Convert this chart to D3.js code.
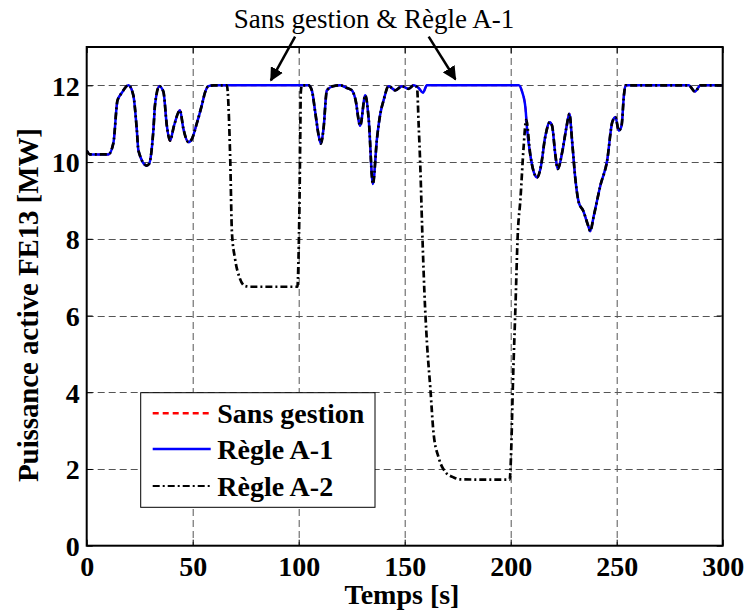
<!DOCTYPE html>
<html>
<head>
<meta charset="utf-8">
<script src="https://cdn.jsdelivr.net/npm/d3@7"></script>
<style>
  html, body { margin: 0; padding: 0; background: #fff; }
  svg { display: block; }
  text { font-family: "Liberation Serif", "Times New Roman", serif; }
</style>
</head>
<body>
<svg id="chart" width="746" height="614"></svg>
<script>
// ---------- data ----------
const timeMain = [0, 1.5, 10.2, 12.6, 14.5, 16.5, 19.7, 22, 23.6, 24.4, 28.3, 29.4, 31.5, 32.2, 34.3, 36.2, 37.8, 39.3, 41.2, 44, 45.6, 48, 49.6, 51.9, 54.3, 55.9, 57.4, 60, 104.6, 106.2, 107.8, 109.4, 110.5, 111.7, 113.3, 116.4, 119.6, 122.8, 125.1, 126.7, 129, 131.4, 133, 135, 136.9, 138.5, 140, 142.4, 145.6, 148.7, 151.8, 154.2, 156.6, 158.6, 160.5, 203.8, 205.4, 207, 207.7, 209.3, 210.9, 212.5, 214, 216.4, 218.4, 219.5, 221.1, 222.2, 224.3, 226.3, 227.7, 229, 230.5, 232.1, 234.2, 236.8, 237.5, 239.2, 242.3, 245.5, 247.9, 249.4, 251, 252.3, 253.4, 254.2, 284, 286.9, 289.6, 300];
const sansGestion = [10.3, 10.2, 10.2, 10.5, 11.6, 11.8, 12.0, 11.74, 10.87, 10.3, 9.91, 9.95, 10.87, 11.48, 11.98, 11.83, 10.95, 10.56, 10.95, 11.35, 10.87, 10.52, 10.6, 11.0, 11.48, 11.83, 11.98, 12, 12, 11.87, 11.3, 10.7, 10.48, 10.87, 11.87, 11.98, 12.0, 11.93, 11.87, 11.65, 10.95, 11.74, 11.13, 9.43, 10.6, 11.26, 11.6, 11.98, 11.87, 11.98, 11.91, 12.0, 11.93, 11.81, 12, 12, 11.83, 11.39, 10.87, 10.17, 9.74, 9.6, 9.82, 10.69, 11.04, 10.95, 10.17, 9.82, 10.26, 10.91, 11.26, 10.52, 9.56, 8.95, 8.73, 8.3, 8.2, 8.6, 9.39, 10.04, 11.04, 11.17, 10.82, 10.95, 11.74, 12.0, 12, 11.84, 12, 12];
const regleA1 = [10.3, 10.2, 10.2, 10.5, 11.6, 11.8, 12.0, 11.74, 10.87, 10.3, 9.91, 9.95, 10.87, 11.48, 11.98, 11.83, 10.95, 10.56, 10.95, 11.35, 10.87, 10.52, 10.6, 11.0, 11.48, 11.83, 11.98, 12, 12, 11.87, 11.3, 10.7, 10.48, 10.87, 11.87, 11.98, 12.0, 11.93, 11.87, 11.65, 10.95, 11.74, 11.13, 9.43, 10.6, 11.26, 11.6, 11.98, 11.87, 11.98, 11.91, 12.0, 11.93, 11.81, 12, 12, 11.83, 11.39, 10.87, 10.17, 9.74, 9.6, 9.82, 10.69, 11.04, 10.95, 10.17, 9.82, 10.26, 10.91, 11.26, 10.52, 9.56, 8.95, 8.73, 8.3, 8.2, 8.6, 9.39, 10.04, 11.04, 11.17, 10.82, 10.95, 11.74, 12.0, 12, 11.84, 12, 12];

const timeA2 = [0, 1.5, 10.2, 12.6, 14.5, 16.5, 19.7, 22, 23.6, 24.4, 28.3, 29.4, 31.5, 32.2, 34.3, 36.2, 37.8, 39.3, 41.2, 44, 45.6, 48, 49.6, 51.9, 54.3, 55.9, 57.4, 60, 66.1, 67.7, 68.5, 70, 72.1, 74.7, 77.1, 99.4, 99.9, 100.4, 100.7, 101, 101.5, 104.6, 106.2, 107.8, 109.4, 110.5, 111.7, 113.3, 116.4, 119.6, 122.8, 125.1, 126.7, 129, 131.4, 133, 135, 136.9, 138.5, 140, 142.4, 145.6, 148.7, 151.8, 154.2, 155.8, 156.6, 157.4, 158.2, 159.3, 160.5, 162.1, 163.6, 166, 169.2, 173.1, 176, 199.5, 200.2, 200.7, 201.1, 201.4, 202.2, 203.3, 204.6, 206.1, 207.3, 209.3, 210.9, 212.5, 214, 216.4, 218.4, 219.5, 221.1, 222.2, 224.3, 226.3, 227.7, 229, 230.5, 232.1, 234.2, 236.8, 237.5, 239.2, 242.3, 245.5, 247.9, 249.4, 251, 252.3, 253.4, 254.2, 284, 286.9, 289.6, 300];
const regleA2 = [10.3, 10.2, 10.2, 10.5, 11.6, 11.8, 12.0, 11.74, 10.87, 10.3, 9.91, 9.95, 10.87, 11.48, 11.98, 11.83, 10.95, 10.56, 10.95, 11.35, 10.87, 10.52, 10.6, 11.0, 11.48, 11.83, 11.98, 12, 12, 10.08, 8.17, 7.47, 6.99, 6.77, 6.75, 6.75, 7.47, 9.04, 10.52, 11.83, 12, 12, 11.87, 11.3, 10.7, 10.48, 10.87, 11.87, 11.98, 12.0, 11.93, 11.87, 11.65, 10.95, 11.74, 11.13, 9.43, 10.6, 11.26, 11.6, 11.98, 11.87, 11.98, 11.91, 12.0, 11.95, 10.95, 9.82, 8.34, 6.6, 5.29, 4.1, 2.94, 2.3, 1.92, 1.78, 1.73, 1.72, 2.42, 3.46, 4.33, 4.85, 6.16, 8.08, 9.04, 10.4, 11.1, 10.17, 9.74, 9.6, 9.82, 10.69, 11.04, 10.95, 10.17, 9.82, 10.26, 10.91, 11.26, 10.52, 9.56, 8.95, 8.73, 8.3, 8.2, 8.6, 9.39, 10.04, 11.04, 11.17, 10.82, 10.95, 11.74, 12.0, 12, 11.84, 12, 12];

const xTicks = [0, 50, 100, 150, 200, 250, 300];
const yTicks = [0, 2, 4, 6, 8, 10, 12];
const seriesNames = ["Sans gestion", "Règle A-1", "Règle A-2"];
const annotationText = "Sans gestion & Règle A-1";
// arrows in data units
const arrowTails = [[98.3, 13.27], [161.3, 13.27]];
const arrowTips = [[86.9, 12.13], [173.9, 12.16]];

// ---------- layout ----------
const W = 746, H = 614;
const margin = { left: 86.7, right: 23.3, top: 47, bottom: 68.3 };
const pw = W - margin.left - margin.right;
const ph = H - margin.top - margin.bottom;

const svg = d3.select("#chart");
svg.append("rect").attr("width", W).attr("height", H).attr("fill", "#fff");
const g = svg.append("g").attr("transform", `translate(${margin.left},${margin.top})`);

const x = d3.scaleLinear().domain([0, 300]).range([0, pw]);
const y = d3.scaleLinear().domain([0, 13]).range([ph, 0]);

// grid
const grid = g.append("g").attr("stroke", "#555").attr("stroke-width", 1).attr("stroke-dasharray", "7,4");
grid.selectAll("line.v").data(xTicks.filter(d => d > 0 && d < 300)).join("line")
  .attr("x1", d => Math.round(x(d)) + 0.5).attr("x2", d => Math.round(x(d)) + 0.5)
  .attr("y1", 0).attr("y2", ph);
grid.selectAll("line.h").data(yTicks.filter(d => d > 0)).join("line")
  .attr("y1", d => Math.round(y(d)) + 0.5).attr("y2", d => Math.round(y(d)) + 0.5)
  .attr("x1", 0).attr("x2", pw);

// lines
const mk = (ts, vs) => ts.map((t, i) => [t, vs[i]]);
const line = d3.line().x(d => x(d[0])).y(d => y(d[1])).curve(d3.curveMonotoneX);

g.append("clipPath").attr("id", "clip").append("rect").attr("width", pw).attr("height", ph);
const lines = g.append("g").attr("clip-path", "url(#clip)");

const styles = [
  { color: "#ff0000", dash: "6,4", width: 2 },
  { color: "#0000ff", dash: null, width: 2.5 },
  { color: "#000000", dash: "7,3,2,3", width: 2.7 }
];
const seriesData = [mk(timeMain, sansGestion), mk(timeMain, regleA1), mk(timeA2, regleA2)];

seriesData.forEach((d, i) => {
  lines.append("path").datum(d)
    .attr("fill", "none")
    .attr("stroke", styles[i].color)
    .attr("stroke-width", styles[i].width)
    .attr("stroke-dasharray", styles[i].dash)
    .attr("stroke-linejoin", "round")
    .attr("d", line);
});

// axes (ticks inward)
const fontCss = "bold 28px 'Liberation Serif', 'Times New Roman', serif";
const xAxis = d3.axisBottom(x).tickValues(xTicks).tickSize(-6).tickPadding(10).tickFormat(d3.format("d"));
const yAxis = d3.axisLeft(y).tickValues(yTicks).tickSize(-6).tickPadding(7).tickFormat(d3.format("d"));
const xa = g.append("g").attr("transform", `translate(0,${ph})`).call(xAxis);
const ya = g.append("g").call(yAxis);
g.append("g").call(d3.axisTop(x).tickValues(xTicks).tickSize(-6).tickFormat(""));
g.append("g").attr("transform", `translate(${pw},0)`).call(d3.axisRight(y).tickValues(yTicks).tickSize(-6).tickFormat(""));
g.selectAll(".domain").remove();
g.selectAll(".tick line").attr("stroke", "#000").attr("stroke-width", 1);
[xa, ya].forEach(a => a.selectAll("text").attr("fill", "#000").style("font", fontCss));
xa.selectAll("text").attr("dy", "0.71em");
ya.selectAll("text").attr("dy", "0.35em");

// frame
g.append("rect").attr("width", pw).attr("height", ph).attr("fill", "none").attr("stroke", "#000").attr("stroke-width", 2);

// axis titles
svg.append("text").attr("x", 402).attr("y", 604)
  .attr("text-anchor", "middle").style("font", fontCss).text("Temps [s]");
svg.append("text").attr("transform", "translate(38,305) rotate(-90)")
  .attr("text-anchor", "middle")
  .attr("textLength", 354).attr("lengthAdjust", "spacing")
  .style("font", "bold 29px 'Liberation Serif', 'Times New Roman', serif")
  .text("Puissance active FE13 [MW]");

// annotation
svg.append("text").attr("x", 374).attr("y", 28).attr("text-anchor", "middle")
  .style("font", "27px 'Liberation Serif', 'Times New Roman', serif").text(annotationText);

const defs = svg.append("defs");
defs.append("marker").attr("id", "arrowhead").attr("viewBox", "0 0 10 10")
  .attr("refX", 9).attr("refY", 5).attr("markerWidth", 5.5).attr("markerHeight", 5.5)
  .attr("orient", "auto").attr("markerUnits", "strokeWidth")
  .append("path").attr("d", "M0,0 L10,5 L0,10 z").attr("fill", "#000");

arrowTails.forEach((tl, i) => {
  const tp = arrowTips[i];
  g.append("line")
    .attr("x1", x(tl[0])).attr("y1", y(tl[1]))
    .attr("x2", x(tp[0])).attr("y2", y(tp[1]))
    .attr("stroke", "#000").attr("stroke-width", 2.5)
    .attr("marker-end", "url(#arrowhead)");
});

// legend
const lg = svg.append("g").attr("transform", "translate(140.7,392.7)");
lg.append("rect").attr("width", 234.3).attr("height", 114.6).attr("fill", "#fff").attr("stroke", "#000").attr("stroke-width", 1);
const rowY = [20.6, 56.3, 93.3];
seriesNames.forEach((name, i) => {
  lg.append("line").attr("x1", 12).attr("x2", 70).attr("y1", rowY[i]).attr("y2", rowY[i])
    .attr("stroke", styles[i].color).attr("stroke-width", i === 2 ? 2.2 : 2.5)
    .attr("stroke-dasharray", styles[i].dash);
  lg.append("text").attr("x", 76.6).attr("y", rowY[i]).attr("dy", "0.35em")
    .style("font", fontCss).text(name);
});
</script>
</body>
</html>
